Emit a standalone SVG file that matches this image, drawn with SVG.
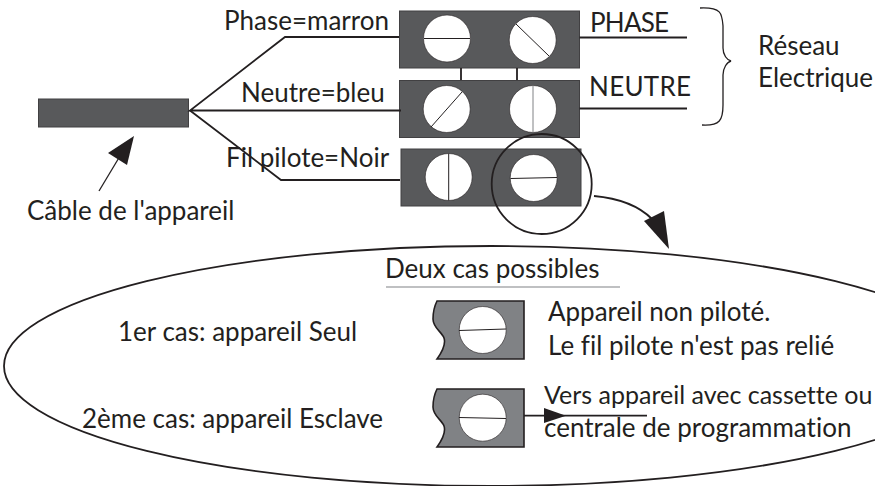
<svg xmlns="http://www.w3.org/2000/svg" width="875" height="486" viewBox="0 0 875 486">
<style>
text{font-family:"Lato","Noto Sans",sans-serif;font-size:26px;fill:#231f20;font-variant-ligatures:none}
.box{fill:#58595b;stroke:#414042;stroke-width:1}
.box2{fill:#808285;stroke:#231f20;stroke-width:1.6}
.screw{fill:#fff;stroke:#231f20;stroke-width:.6}
.slot{stroke:#231f20;stroke-width:1;fill:none}
.w{stroke:#231f20;stroke-width:1.8;fill:none}
.t{stroke:#231f20;stroke-width:1.3;fill:none}
</style>
<rect width="875" height="486" fill="#fff"/>
<g id="ellipse"><ellipse cx="491" cy="366" rx="487" ry="120" fill="none" stroke="#231f20" stroke-width="1.8"/></g>
<g id="cable"><rect class="box" x="38.500" y="99" width="150" height="28"/></g>
<g id="bornier-phase">
<rect class="box" x="399.500" y="11" width="180" height="57"/>
<circle class="screw" cx="447" cy="38.500" r="23.500"/><line class="slot" x1="424" y1="38.500" x2="470" y2="38.500"/>
<circle class="screw" cx="532.700" cy="40" r="23.500"/><line class="slot" x1="516" y1="24" x2="549" y2="56"/>
</g>
<g id="bornier-neutre">
<rect class="box" x="399.500" y="80.500" width="180" height="57"/>
<circle class="screw" cx="446.700" cy="109" r="23.500"/><line class="slot" x1="431" y1="127" x2="462" y2="92"/>
<circle class="screw" cx="533" cy="109" r="23.500"/><line class="slot" x1="533" y1="85.500" x2="533" y2="132.500" style="stroke:#808285"/>
</g>
<g id="bornier-pilote">
<rect class="box" x="401" y="149" width="180" height="57"/>
<circle class="screw" cx="448.700" cy="177" r="23.500"/><line class="slot" x1="448.700" y1="153.500" x2="448.700" y2="200.500"/>
<circle class="screw" cx="533.700" cy="178" r="23.500"/><line class="slot" x1="510.500" y1="178.500" x2="557" y2="177.500"/>
</g>
<g id="connecteurs">
<polyline class="w" points="399,37 285,37 190,110.500 401,110.500"/>
<polyline class="w" points="190,110.500 281,180 400,180"/>
<line class="w" x1="579.500" y1="37.500" x2="687" y2="37.500"/>
<line class="w" x1="579.500" y1="108.500" x2="687" y2="108.500"/>
<line class="w" x1="461" y1="68" x2="461" y2="80"/>
<line class="w" x1="517" y1="68" x2="517" y2="80"/>
<circle cx="541.700" cy="184" r="50" fill="none" stroke="#231f20" stroke-width="1.8"/>
<line class="t" x1="99" y1="191" x2="120" y2="156"/>
<polygon points="134,136 127,165 108,153" fill="#231f20"/>
<path class="w" d="M594 196 C616 198 637 204 652 219"/>
<polygon points="669,249 644,221 664,211" fill="#231f20"/>
<path class="t" d="M700 8 C722 7 722 14 723 26 L723 48 C723 55 727 60 731 61 C727 62 723 68 723 75 L723 105 C723 120 720 126 702 125"/>
<line x1="386" y1="287" x2="620" y2="287" stroke="#808285" stroke-width="1.2"/>
</g>
<g id="cas1">
<path class="box2" d="M437 301 L524 301 L524 359 L437 359 C442 352 446 344 444 338 C442 332 433 328 433 319 C433 311 435 305 437 301 Z"/>
<circle class="screw" cx="482.700" cy="330" r="23.500"/><line class="slot" x1="459" y1="330.500" x2="506" y2="329"/>
</g>
<g id="cas2">
<path class="box2" d="M437 389 L524 389 L524 447 L437 447 C442 440 446 432 444 426 C442 420 433 416 433 407 C433 399 435 393 437 389 Z"/>
<circle class="screw" cx="482.700" cy="417.700" r="23.500"/><line class="slot" x1="459" y1="417.500" x2="506" y2="418.500"/>
<line class="w" x1="524" y1="415.700" x2="647" y2="415.700"/>
<polygon points="544,408 566,415.700 544,423" fill="#231f20"/>
</g>
<g id="textes">
<text x="224" y="30">Phase=marron</text>
<text x="241" y="102">Neutre=bleu</text>
<text x="226" y="167">Fil pilote=Noir</text>
<text x="27" y="220">Câble de l'appareil</text>
<text x="590" y="32" textLength="79">PHASE</text>
<text x="589" y="96" textLength="102">NEUTRE</text>
<text x="758" y="55">Réseau</text>
<text x="758" y="87">Electrique</text>
<text x="385" y="278">Deux cas possibles</text>
<text x="118" y="341">1er cas: appareil Seul</text>
<text x="82" y="428">2ème cas: appareil Esclave</text>
<text x="548" y="321">Appareil non piloté.</text>
<text x="548" y="355">Le fil pilote n'est pas relié</text>
<text x="544" y="404" style="font-size:25px">Vers appareil avec cassette ou</text>
<text x="544" y="437">centrale de programmation</text>
</g>
</svg>
